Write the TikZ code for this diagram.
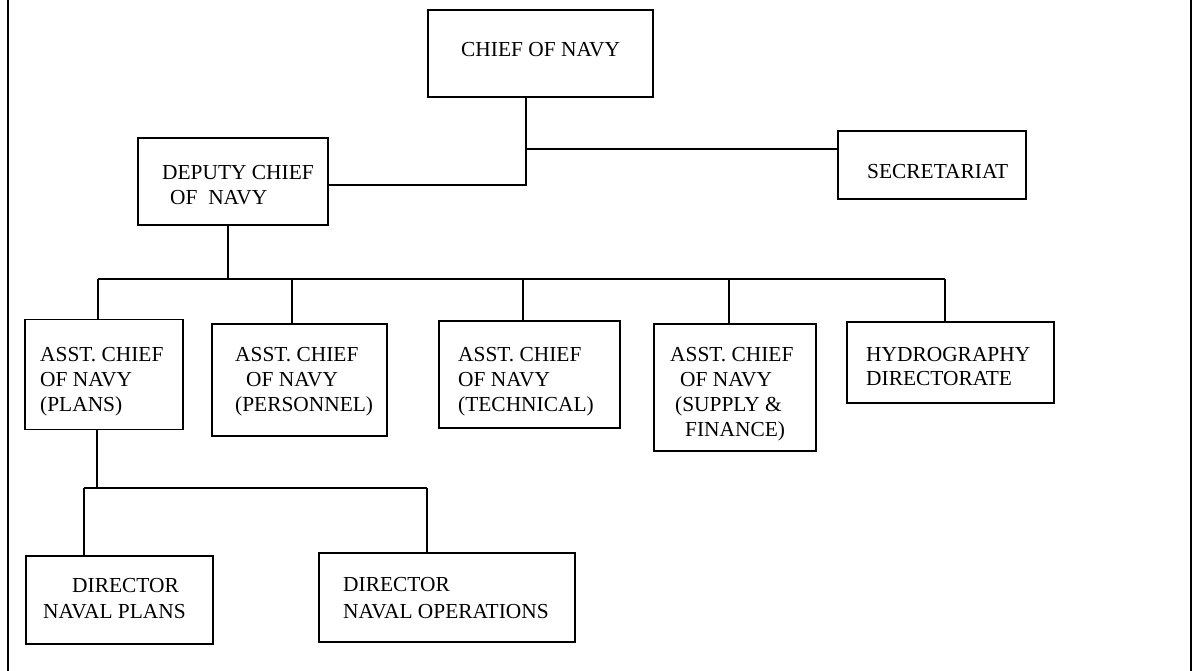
\documentclass[tikz,border=0pt]{standalone}
\usepackage{fontspec}
\setmainfont{Liberation Serif}
\begin{document}
\begin{tikzpicture}[x=1pt,y=-1pt,
  box/.style={draw, line width=1.6pt, inner sep=0pt, outer sep=0pt},
  conn/.style={draw, line width=1.4pt},
  frame/.style={draw, line width=2pt},
  lbl/.style={inner sep=0pt, anchor=base west, font=\fontsize{21.4}{25}\selectfont}]
\useasboundingbox (0,0) rectangle (1194,671);
% page frame lines
\coordinate (fl1) at (8,0); \coordinate (fl2) at (8,671);
\coordinate (fr1) at (1191,0); \coordinate (fr2) at (1191,671);
\draw[frame] (fl1) -- (fl2);
\draw[frame] (fr1) -- (fr2);
% boxes
\node[box, minimum width=225pt, minimum height=87pt] (chief) at (540.5,53.5) {};
\node[box, minimum width=188pt, minimum height=68pt] (secr) at (932,165) {};
\node[box, minimum width=190pt, minimum height=87pt] (deputy) at (233,181.5) {};
\node[box, minimum width=158pt, minimum height=110pt] (plans) at (104,374.5) {};
\node[box, minimum width=175pt, minimum height=112pt] (pers) at (299.5,380) {};
\node[box, minimum width=181pt, minimum height=107pt] (tech) at (529.5,374.5) {};
\node[box, minimum width=162pt, minimum height=127pt] (supp) at (735,387.5) {};
\node[box, minimum width=207pt, minimum height=81pt] (hydro) at (950.5,362.5) {};
\node[box, minimum width=187pt, minimum height=88pt] (dnp) at (119.5,600) {};
\node[box, minimum width=256pt, minimum height=89pt] (dno) at (447,597.5) {};
% texts
\node[lbl] (tchief) at (461,57) {CHIEF OF NAVY};
\node[lbl] (tsecr) at (867,179) {SECRETARIAT};
\node[lbl] (tdep1) at (162,180) {DEPUTY CHIEF};
\node[lbl] (tdep2) at (170,205) {OF\ \ NAVY};
\node[lbl] (tpl1) at (40,361) {ASST. CHIEF};
\node[lbl] (tpl2) at (40,386) {OF NAVY};
\node[lbl] (tpl3) at (40,411) {(PLANS)};
\node[lbl] (tpe1) at (235,361) {ASST. CHIEF};
\node[lbl] (tpe2) at (246,386) {OF NAVY};
\node[lbl] (tpe3) at (235,411) {(PERSONNEL)};
\node[lbl] (tte1) at (458,361) {ASST. CHIEF};
\node[lbl] (tte2) at (458,386) {OF NAVY};
\node[lbl] (tte3) at (458,411) {(TECHNICAL)};
\node[lbl] (tsu1) at (670,361) {ASST. CHIEF};
\node[lbl] (tsu2) at (680,386) {OF NAVY};
\node[lbl] (tsu3) at (675,411) {(SUPPLY \&};
\node[lbl] (tsu4) at (685,436) {FINANCE)};
\node[lbl] (thy1) at (866,361) {HYDROGRAPHY};
\node[lbl] (thy2) at (866,385) {DIRECTORATE};
\node[lbl] (tdp1) at (72,592) {DIRECTOR};
\node[lbl] (tdp2) at (43,618) {NAVAL PLANS};
\node[lbl] (tdo1) at (343,591) {DIRECTOR};
\node[lbl] (tdo2) at (343,618) {NAVAL OPERATIONS};
% junctions
\coordinate (j1) at (526,185);
\coordinate (j2) at (526,149);
\coordinate (j3) at (228,279);
\coordinate (busL) at (98,279);
\coordinate (busR) at (945,279);
\coordinate (b2) at (292,279);
\coordinate (b3) at (523,279);
\coordinate (b4) at (729,279);
\coordinate (k1) at (97,488);
\coordinate (kL) at (84,488);
\coordinate (kR) at (427,488);
% connectors
\draw[conn] (chief.south -| j1) -- (j1) -- (deputy.east |- j1);
\draw[conn] (j2) -- (secr.west |- j2);
\draw[conn] (deputy.south -| j3) -- (j3);
\draw[conn] (busL) -- (busR);
\draw[conn] (busL) -- (plans.north -| busL);
\draw[conn] (b2) -- (pers.north -| b2);
\draw[conn] (b3) -- (tech.north -| b3);
\draw[conn] (b4) -- (supp.north -| b4);
\draw[conn] (busR) -- (hydro.north -| busR);
\draw[conn] (plans.south -| k1) -- (k1);
\draw[conn] (kL) -- (kR);
\draw[conn] (kL) -- (dnp.north -| kL);
\draw[conn] (kR) -- (dno.north -| kR);
\end{tikzpicture}
\end{document}
